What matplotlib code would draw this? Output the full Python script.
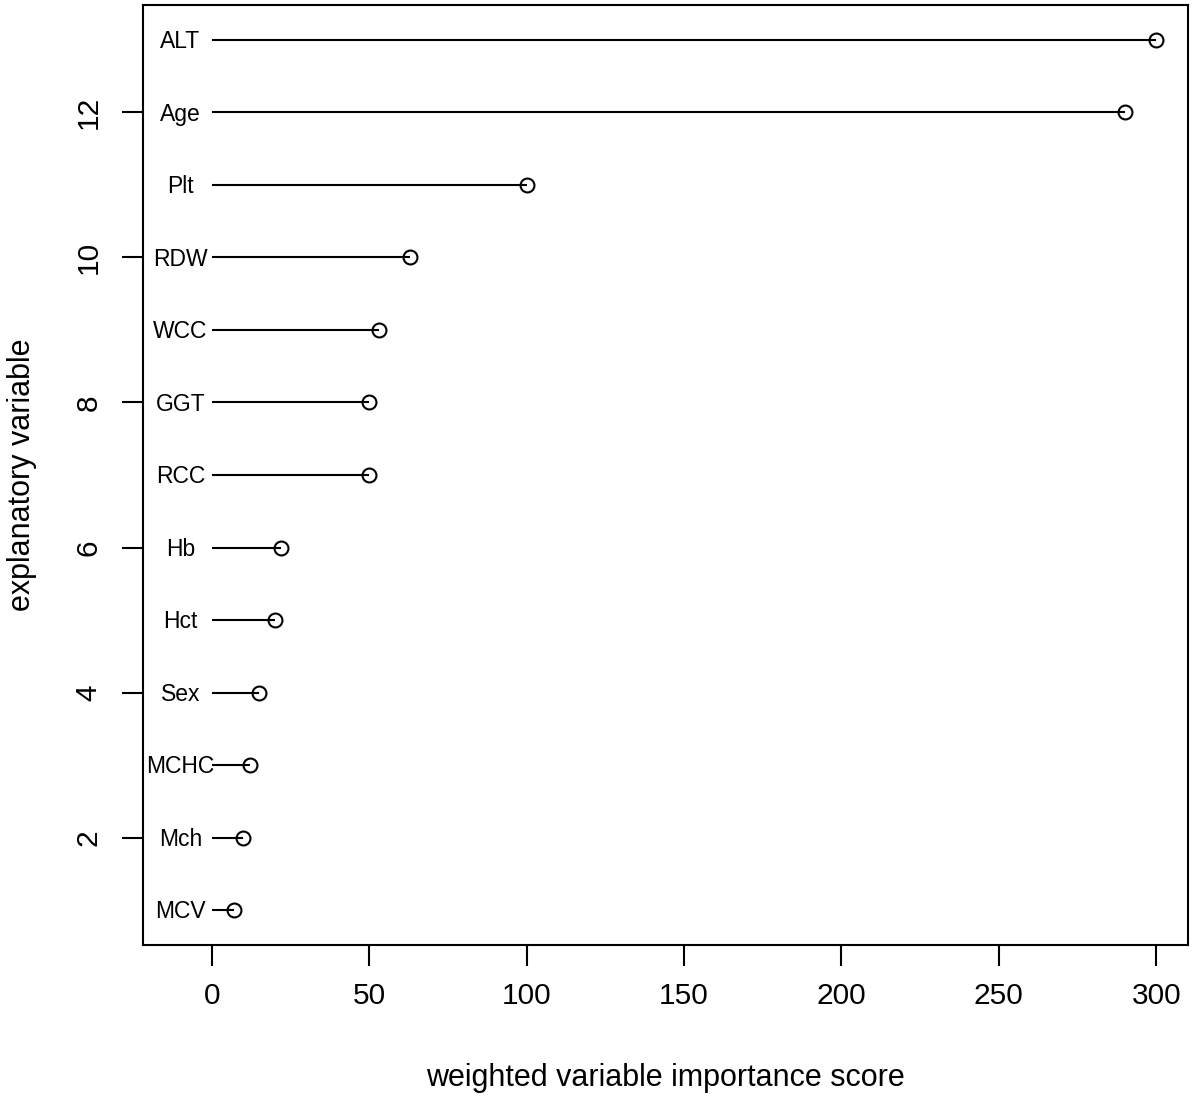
import numpy as np
import matplotlib
matplotlib.use("Agg")
import matplotlib.pyplot as plt

plt.rcParams['font.family'] = ['Liberation Sans', 'DejaVu Sans']

# variables ordered from rank 13 (top) down to rank 1
variables = ["ALT", "Age", "Plt", "RDW", "WCC", "GGT", "RCC",
             "Hb", "Hct", "Sex", "MCHC", "Mch", "MCV"]
scores = [300, 290, 100, 63, 53, 50, 50, 22, 20, 15, 12, 10, 7]
ranks = list(range(len(variables), 0, -1))
label_x = -10
x_ticks = [0, 50, 100, 150, 200, 250, 300]
y_ticks = [2, 4, 6, 8, 10, 12]

fig = plt.figure(figsize=(12, 11), dpi=100)
ax = fig.add_axes([143 / 1200, 1 - 945 / 1100, (1188 - 143) / 1200, (945 - 5) / 1100])

lab_size = 16.5
for var, s, r in zip(variables, scores, ranks):
    ax.plot([0, s], [r, r], color="black", linewidth=1.5, solid_capstyle="butt")
    ax.plot(s, r, marker="o", markersize=10, markerfacecolor="none",
            markeredgecolor="black", markeredgewidth=1.5)
    # put the cap height centred on the segment
    ax.annotate(var, (label_x, r), xytext=(0, -0.36 * lab_size),
                textcoords="offset points", ha="center", va="baseline",
                fontsize=lab_size)

ax.set_xlim(-21.9, 310.1)
ax.set_ylim(0.52, 13.48)
ax.set_xticks(x_ticks)
ax.set_yticks(y_ticks)
ax.tick_params(axis="both", length=15, width=1.5, labelsize=21.5, pad=12)
ax.tick_params(axis="y", pad=14)
for lbl in ax.get_yticklabels():
    lbl.set_rotation(90)
    lbl.set_va("center")
for sp in ax.spines.values():
    sp.set_linewidth(1.5)

ax.set_xlabel("weighted variable importance score", fontsize=22, labelpad=38)
ax.set_ylabel("explanatory variable", fontsize=22, labelpad=27)

fig.savefig("out.png", dpi=100)
